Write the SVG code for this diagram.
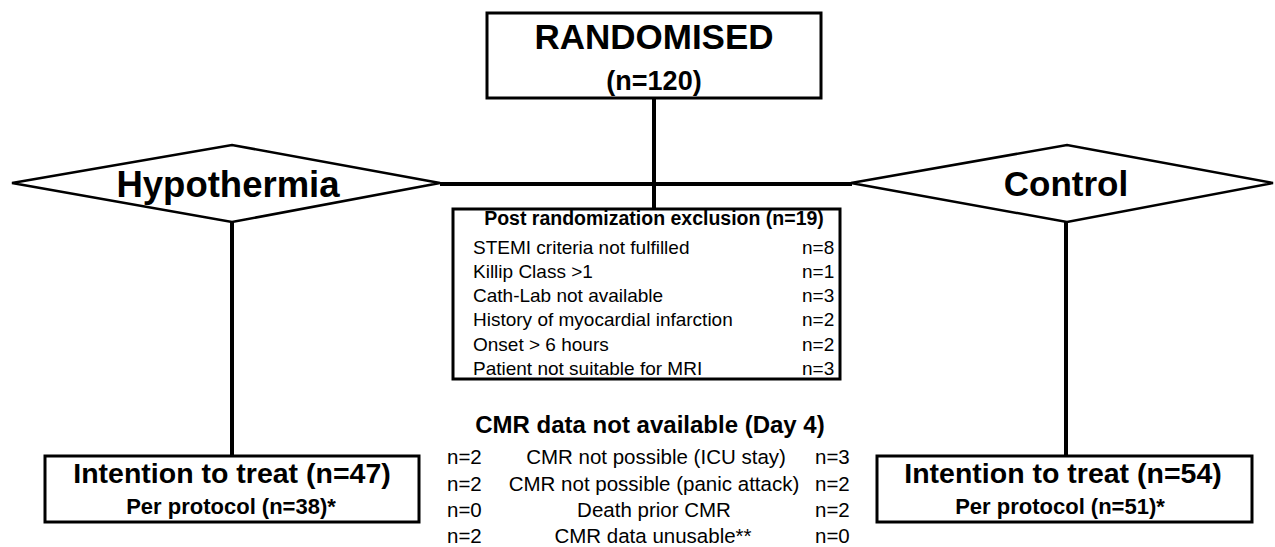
<svg xmlns="http://www.w3.org/2000/svg" width="1275" height="547" viewBox="0 0 1275 547">
<style>
  text { font-family: "Liberation Sans", Arial, sans-serif; fill: #000; }
  .b { font-weight: bold; }
  .box { fill: #fff; stroke: #000; stroke-width: 3; }
  .dia { fill: #fff; stroke: #000; stroke-width: 2.5; stroke-linejoin: miter; }
  .conn { stroke: #000; stroke-width: 4; fill: none; }
  .mid { text-anchor: middle; }
  .item { font-size: 19px; }
  .cmr { font-size: 20.5px; }
</style>
<rect width="1275" height="547" fill="#fff"/>
<g id="connectors">
  <line class="conn" x1="654" y1="98" x2="654" y2="209"/>
  <line class="conn" x1="440" y1="184" x2="852" y2="184"/>
  <line class="conn" x1="232" y1="222" x2="232" y2="456"/>
  <line class="conn" x1="1066" y1="222" x2="1066" y2="456"/>
</g>
<g id="randomised">
  <rect class="box" x="487" y="13" width="334" height="85"/>
  <text class="b mid" x="654" y="49" font-size="35">RANDOMISED</text>
  <text class="b mid" x="654" y="90" font-size="27">(n=120)</text>
</g>
<g id="hypothermia">
  <polygon class="dia" points="12,183 232,145 440,183 232,222"/>
  <text class="b mid" x="228" y="197" font-size="36.5">Hypothermia</text>
</g>
<g id="control">
  <polygon class="dia" points="851,183 1067,145 1273,183 1067,222"/>
  <text class="b mid" x="1066" y="196" font-size="35">Control</text>
</g>
<g id="exclusion">
  <rect class="box" x="453" y="209" width="387" height="170"/>
  <text class="b mid" x="654" y="225" font-size="19.5">Post randomization exclusion (n=19)</text>
  <g class="item">
    <text x="473" y="254">STEMI criteria not fulfilled</text>
    <text x="473" y="278">Killip Class &gt;1</text>
    <text x="473" y="302">Cath-Lab not available</text>
    <text x="473" y="326">History of myocardial infarction</text>
    <text x="473" y="351">Onset &gt; 6 hours</text>
    <text x="473" y="375">Patient not suitable for MRI</text>
    <text x="802" y="254">n=8</text>
    <text x="802" y="278">n=1</text>
    <text x="802" y="302">n=3</text>
    <text x="802" y="326">n=2</text>
    <text x="802" y="351">n=2</text>
    <text x="802" y="375">n=3</text>
  </g>
</g>
<g id="cmr">
  <text class="b mid" x="650" y="433" font-size="24">CMR data not available (Day 4)</text>
  <g class="cmr">
    <text x="447" y="464">n=2</text>
    <text x="447" y="491">n=2</text>
    <text x="447" y="517">n=0</text>
    <text x="447" y="543">n=2</text>
    <text class="mid" x="656" y="464">CMR not possible (ICU stay)</text>
    <text class="mid" x="654" y="491">CMR not possible (panic attack)</text>
    <text class="mid" x="654" y="517">Death prior CMR</text>
    <text class="mid" x="653" y="543">CMR data unusable**</text>
    <text x="815" y="464">n=3</text>
    <text x="815" y="491">n=2</text>
    <text x="815" y="517">n=2</text>
    <text x="815" y="543">n=0</text>
  </g>
</g>
<g id="itt-hypothermia">
  <rect class="box" x="45" y="456" width="374" height="66"/>
  <text class="b mid" x="232" y="483" font-size="28.5">Intention to treat (n=47)</text>
  <text class="b mid" x="231" y="514" font-size="22">Per protocol (n=38)*</text>
</g>
<g id="itt-control">
  <rect class="box" x="877" y="456" width="375" height="66"/>
  <text class="b mid" x="1063" y="483" font-size="28.5">Intention to treat (n=54)</text>
  <text class="b mid" x="1060" y="514" font-size="22">Per protocol (n=51)*</text>
</g>
</svg>
